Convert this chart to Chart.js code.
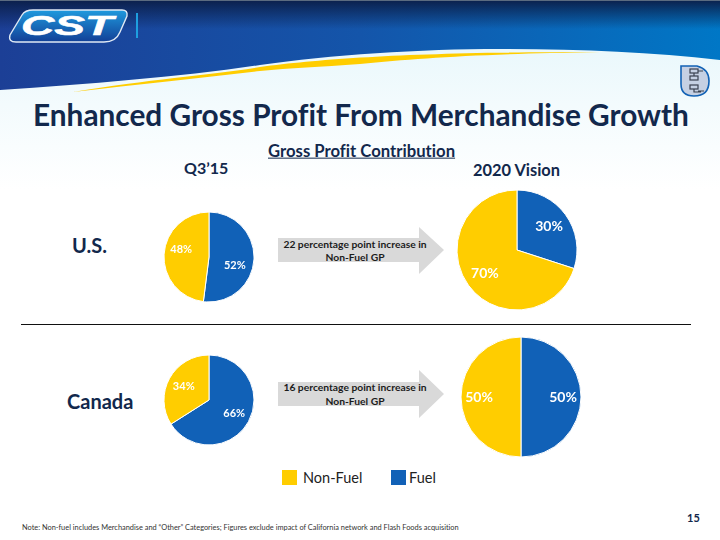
<!DOCTYPE html>
<html>
<head>
<meta charset="utf-8">
<title>Enhanced Gross Profit From Merchandise Growth</title>
<script src="https://cdn.jsdelivr.net/npm/chart.js@4"></script>
<style>
  html, body { margin: 0; padding: 0; background: #fff; }
  #slide { position: relative; width: 720px; height: 540px; overflow: hidden; font-family: Lato, "Open Sans", sans-serif; font-variant-ligatures: none; }
  #slide svg.bg { position: absolute; left: 0; top: 0; }
  #slide canvas { position: absolute; }
  .t { position: absolute; white-space: nowrap; transform: translateY(-50%); line-height: 1; }
  .b { font-weight: 700; }
  .navy { color: #12284c; }
  .c { transform: translate(-50%, -50%); }
  .swatch { position: absolute; width: 15px; height: 15px; }
</style>
</head>
<body>
<div id="slide">
  <svg class="bg" width="720" height="540" viewBox="0 0 720 540">
    <defs>
      <linearGradient id="pale" x1="0" y1="0" x2="0" y2="1">
        <stop offset="0" stop-color="#e2f5fb"/>
        <stop offset="0.55" stop-color="#f3fbfd"/>
        <stop offset="1" stop-color="#ffffff"/>
      </linearGradient>
      <linearGradient id="blueH" x1="0" y1="0" x2="1" y2="0">
        <stop offset="0" stop-color="#1c3f96"/>
        <stop offset="0.5" stop-color="#1455aa"/>
        <stop offset="1" stop-color="#0077c6"/>
      </linearGradient>
      <linearGradient id="shade" x1="0" y1="0" x2="0" y2="1">
        <stop offset="0" stop-color="#0b1f4a" stop-opacity="0.95"/>
        <stop offset="1" stop-color="#0b1f4a" stop-opacity="0"/>
      </linearGradient>
      <linearGradient id="logoFill" x1="0" y1="0" x2="0" y2="1">
        <stop offset="0" stop-color="#1f9ade"/>
        <stop offset="1" stop-color="#123f96"/>
      </linearGradient>
    </defs>
    <rect x="0" y="0" width="720" height="190" fill="url(#pale)"/>
    <path d="M0 90 C90 84 180 77 260 65 C330 55 420 49 500 49 C580 49 650 52 720 60 L720 0 L0 0 Z" fill="url(#blueH)"/>
    <rect x="0" y="1" width="720" height="28" fill="url(#shade)"/>
    <rect x="0" y="0" width="720" height="1" fill="#5b6b80"/>
    <path d="M73 92 C150 79 210 75 260 67 C330 58 420 52 600 52 C480 54 420 58 360 64 C320 67 290 68 260 71 C200 78 140 84 73 92 Z" fill="#ffcd00"/>
    <path d="M22 15 Q25 10 33 10 L122 10 Q128 10 127 16 L120 32 Q116 42 104 42 L16 42 Q8 42 10 35 Z" fill="url(#logoFill)" stroke="#dfe9f5" stroke-width="1.4"/>
    <text x="67" y="35" text-anchor="middle" font-family="Liberation Sans" font-weight="700" font-style="italic" font-size="27" fill="#fff" stroke="#fff" stroke-width="0.5" textLength="92" lengthAdjust="spacingAndGlyphs">CST</text>
    <rect x="136" y="13" width="2" height="25" fill="#1e9fe0"/>
    <path d="M681 66 L697 66 Q709 69 709 81 Q709 96 694 96 Q681 96 681 84 Z" fill="#c5d0e3" stroke="#1262b5" stroke-width="1.6"/>
    <g fill="none" stroke="#3a4250" stroke-width="1.2">
      <rect x="690" y="69" width="8" height="4"/><rect x="690" y="76" width="8" height="4"/>
      <path d="M694 73 V76 M698 71 H703"/>
      <rect x="690" y="85" width="8" height="4"/><path d="M694 89 V92 H701 M698 91 H704"/>
    </g>
    <path id="arrowUS" d="M278 238 H419 V227 L444 250 L419 274 V262 H278 Z" fill="#d9d9d9"/>
    <path id="arrowCA" d="M278 382 H419 V370 L444 394 L419 418 V406 H278 Z" fill="#d9d9d9"/>
    <rect x="21" y="324" width="670" height="1" fill="#111"/>
  </svg>

  <div class="t b navy" style="left:33px; top:115px; font-size:29.8px;">Enhanced Gross Profit From Merchandise Growth</div>
  <div class="t b navy" style="left:268px; top:151px; font-size:16.7px; text-decoration:underline;">Gross Profit Contribution</div>
  <div class="t b navy" style="left:184px; top:168px; font-size:16px;">Q3’15</div>
  <div class="t b navy" style="left:473px; top:170px; font-size:16.4px;">2020 Vision</div>
  <div class="t b navy" style="left:72px; top:245px; font-size:20px;">U.S.</div>
  <div class="t b navy" style="left:67px; top:401px; font-size:20px;">Canada</div>

  <div class="t b c" style="left:355px; top:244px; font-size:10.3px; color:#1c1c1c;">22 percentage point increase in</div>
  <div class="t b c" style="left:355px; top:257px; font-size:10.3px; color:#1c1c1c;">Non-Fuel GP</div>
  <div class="t b c" style="left:355px; top:387px; font-size:10.3px; color:#1c1c1c;">16 percentage point increase in</div>
  <div class="t b c" style="left:355px; top:401px; font-size:10.3px; color:#1c1c1c;">Non-Fuel GP</div>

  <div class="swatch" style="left:282px; top:470px; background:#ffcd00;"></div>
  <div class="t" style="left:303px; top:478px; font-size:14.5px; color:#222;">Non-Fuel</div>
  <div class="swatch" style="left:391px; top:470px; background:#1161b7;"></div>
  <div class="t" style="left:409px; top:478px; font-size:14.5px; color:#222;">Fuel</div>

  <div class="t b navy" style="left:687px; top:517px; font-size:11px;">15</div>
  <div class="t" style="left:22px; top:528px; font-size:7.4px; color:#333;">Note: Non-fuel includes Merchandise and “Other” Categories; Figures exclude impact of California network and Flash Foods acquisition</div>

  <canvas id="usNow"></canvas>
  <canvas id="usVision"></canvas>
  <canvas id="caNow"></canvas>
  <canvas id="caVision"></canvas>
</div>

<script>
// Share of gross profit, percent
const categories = ['Fuel', 'Non-Fuel'];
const usNow = [52, 48];
const usVision = [30, 70];
const canadaNow = [66, 34];
const canadaVision = [50, 50];
const sliceColors = ['#1161b7', '#ffcd00'];

// writes the percent on each slice, at a share of the radius
const sliceLabels = {
    id: 'sliceLabels',
    afterDatasetsDraw(chart, args, opts) {
        const c = chart.ctx;
        const values = chart.data.datasets[0].data;
        c.save();
        c.fillStyle = '#fff';
        c.font = '700 ' + opts.size + 'px Lato, sans-serif';
        c.textAlign = 'center';
        c.textBaseline = 'middle';
        chart.getDatasetMeta(0).data.forEach(function(arc, i) {
            const mid = (arc.startAngle + arc.endAngle) / 2;
            const nudge = opts.nudge ? opts.nudge[i] : [0, 0];
            const x = arc.x + Math.cos(mid) * arc.outerRadius * opts.at + nudge[0];
            const y = arc.y + Math.sin(mid) * arc.outerRadius * opts.at + nudge[1];
            c.fillText(values[i] + '%', x, y);
        });
        c.restore();
    }
};

function drawPie(id, values, cx, cy, r, size, at, nudge) {
    const el = document.getElementById(id);
    const side = 2 * r + 4;
    el.style.left = (cx - side / 2) + 'px';
    el.style.top = (cy - side / 2) + 'px';
    el.width = side;
    el.height = side;
    new Chart(el, {
        type: 'pie',
        data: {
            labels: categories,
            datasets: [{
                data: values,
                backgroundColor: sliceColors,
                borderColor: '#fff',
                borderWidth: 1,
                radius: r
            }]
        },
        options: {
            responsive: false,
            animation: false,
            layout: { padding: 0 },
            plugins: {
                legend: { display: false },
                tooltip: { enabled: false },
                sliceLabels: { size: size, at: at, nudge: nudge }
            }
        },
        plugins: [sliceLabels]
    });
}

drawPie('usNow', usNow, 208.5, 257, 45, 11, 0.62, [[-2, 7], [0, -6]]);
drawPie('usVision', usVision, 516.5, 250, 60, 14, 0.66);
drawPie('caNow', canadaNow, 208.5, 400, 45, 11, 0.64);
drawPie('caVision', canadaVision, 520.5, 397, 60, 14, 0.70);
</script>
</body>
</html>
